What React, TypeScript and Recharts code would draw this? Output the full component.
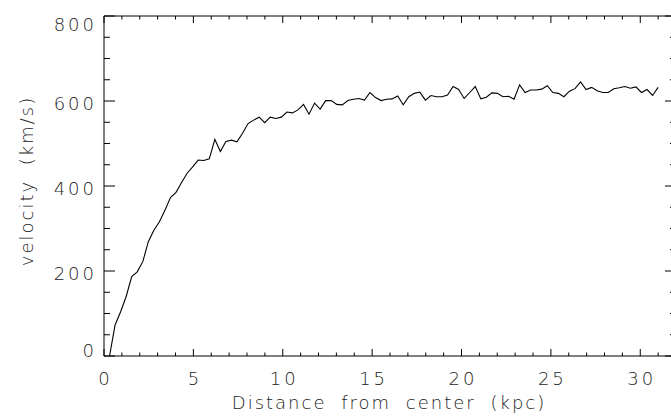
import React from 'react';
import { LineChart, Line, XAxis, YAxis } from 'recharts';

const distanceKpc = [
  0.31, 0.62, 0.93, 1.24, 1.55, 1.86, 2.17, 2.48, 2.79, 3.10,
  3.41, 3.72, 4.03, 4.34, 4.65, 4.96, 5.27, 5.58, 5.89, 6.20,
  6.51, 6.82, 7.13, 7.44, 7.75, 8.06, 8.37, 8.68, 8.99, 9.30,
  9.61, 9.92, 10.23, 10.54, 10.85, 11.16, 11.47, 11.78, 12.09, 12.40,
  12.71, 13.02, 13.33, 13.64, 13.95, 14.26, 14.57, 14.88, 15.19, 15.50,
  15.81, 16.12, 16.43, 16.74, 17.05, 17.36, 17.67, 17.98, 18.29, 18.60,
  18.91, 19.22, 19.53, 19.84, 20.15, 20.46, 20.77, 21.08, 21.39, 21.70,
  22.01, 22.32, 22.63, 22.94, 23.25, 23.56, 23.87, 24.18, 24.49, 24.80,
  25.11, 25.42, 25.73, 26.04, 26.35, 26.66, 26.97, 27.28, 27.59, 27.90,
  28.21, 28.52, 28.83, 29.14, 29.45, 29.76, 30.07, 30.38, 30.69, 31.00,
];

const velocityKms = [
  0, 73, 104, 140, 187, 198, 222, 269, 296, 316,
  343, 373, 385, 408, 430, 445, 461, 460, 464, 510,
  481, 505, 508, 504, 524, 547, 555, 562, 549, 562,
  559, 562, 574, 572, 579, 592, 569, 595, 581, 601,
  601, 592, 591, 601, 604, 606, 602, 620, 608, 601,
  604, 605, 612, 591, 610, 618, 621, 602, 613, 610,
  610, 614, 634, 627, 606, 620, 634, 605, 609, 619,
  618, 610, 611, 604, 638, 620, 626, 626, 628, 636,
  620, 618, 610, 623, 629, 645, 627, 632, 624, 620,
  620, 629, 631, 634, 630, 633, 620, 627, 613, 632,
];

const xTicks = [
  0, 1, 2, 3, 4, 5, 6, 7, 8, 9, 10, 11, 12, 13, 14, 15,
  16, 17, 18, 19, 20, 21, 22, 23, 24, 25, 26, 27, 28, 29, 30, 31,
];
const xTickLabels = [0, 5, 10, 15, 20, 25, 30];
const yTicks = [0, 50, 100, 150, 200, 250, 300, 350, 400, 450, 500, 550, 600, 650, 700, 750, 800];
const yTickLabels = [0, 200, 400, 600, 800];
const xDomain = [0, 32];
const yDomain = [0, 800];
const xTitle = 'Distance from center (kpc)';
const yTitle = 'velocity (km/s)';

const data = distanceKpc.map((d, i) => ({ d, v: velocityKms[i] }));

const FONT = "'DejaVu Sans', sans-serif";
const TEXT_COLOR = '#222';
const FONT_SIZE = 18;
const X_MAJOR = 7;
const X_MINOR = 3.5;
const Y_MAJOR = 11;
const Y_MINOR = 6;

const numStyle = {
  fontFamily: FONT,
  fontSize: FONT_SIZE,
  fontWeight: 200,
  letterSpacing: 3,
  fill: TEXT_COLOR,
};

const titleStyle = {
  fontFamily: FONT,
  fontSize: FONT_SIZE,
  fontWeight: 200,
  letterSpacing: 2,
  wordSpacing: 7,
  fill: TEXT_COLOR,
};

function BottomTick(props: any) {
  const { x, y, payload } = props;
  const major = xTickLabels.includes(payload.value);
  return (
    <g>
      <line x1={x} x2={x} y1={y} y2={y - (major ? X_MAJOR : X_MINOR)} stroke="#000" strokeWidth={1} />
      {major && (
        <text x={x + 1.5} y={y + 29} textAnchor="middle" style={numStyle}>
          {payload.value}
        </text>
      )}
    </g>
  );
}

function TopTick(props: any) {
  const { x, y, payload } = props;
  const major = xTickLabels.includes(payload.value);
  return (
    <line x1={x} x2={x} y1={y} y2={y + (major ? X_MAJOR : X_MINOR)} stroke="#000" strokeWidth={1} />
  );
}

function LeftTick(props: any) {
  const { x, y, payload } = props;
  const major = yTickLabels.includes(payload.value);
  const v = payload.value;
  const dy = v === yDomain[1] ? 15 : v === yDomain[0] ? 1 : 9;
  return (
    <g>
      <line x1={x} x2={x + (major ? Y_MAJOR : Y_MINOR)} y1={y} y2={y} stroke="#000" strokeWidth={1} />
      {major && (
        <text x={x - 7} y={y + dy} textAnchor="end" style={numStyle}>
          {v}
        </text>
      )}
    </g>
  );
}

function RightTick(props: any) {
  const { x, y, payload } = props;
  const major = yTickLabels.includes(payload.value);
  return (
    <line x1={x} x2={x - (major ? Y_MAJOR : Y_MINOR)} y1={y} y2={y} stroke="#000" strokeWidth={1} />
  );
}

function XTitle(props: any) {
  const vb = props.viewBox;
  return (
    <text x={vb.x + vb.width / 2 - 1} y={vb.y + 53} textAnchor="middle" style={titleStyle}>
      {xTitle}
    </text>
  );
}

function YTitle(props: any) {
  const vb = props.viewBox;
  const cx = vb.x + 33;
  const cy = vb.y + vb.height / 2 - 5;
  return (
    <text
      x={cx}
      y={cy}
      textAnchor="middle"
      transform={`rotate(-90 ${cx} ${cy})`}
      style={titleStyle}
    >
      {yTitle}
    </text>
  );
}

export default function App() {
  return (
    <div
      style={{
        position: 'fixed',
        left: 0,
        top: 0,
        width: 671,
        height: 416,
        overflow: 'hidden',
        background: '#fff',
      }}
    >
      <LineChart
        width={690}
        height={416}
        data={data}
        margin={{ top: 0, right: 0, bottom: 0, left: 0 }}
      >
        <XAxis
          dataKey="d"
          type="number"
          domain={xDomain}
          ticks={xTicks}
          interval={0}
          allowDataOverflow
          height={60}
          tickSize={0}
          tickMargin={0}
          tickLine={false}
          axisLine={{ stroke: '#000', strokeWidth: 1 }}
          tick={BottomTick}
          label={<XTitle />}
        />
        <XAxis
          xAxisId="top"
          orientation="top"
          dataKey="d"
          type="number"
          domain={xDomain}
          ticks={xTicks}
          interval={0}
          allowDataOverflow
          height={16}
          tickSize={0}
          tickMargin={0}
          tickLine={false}
          axisLine={{ stroke: '#000', strokeWidth: 1 }}
          tick={TopTick}
        />
        <YAxis
          type="number"
          domain={yDomain}
          ticks={yTicks}
          interval={0}
          allowDataOverflow
          width={104}
          tickSize={0}
          tickMargin={0}
          tickLine={false}
          axisLine={{ stroke: '#000', strokeWidth: 1 }}
          tick={LeftTick}
          label={<YTitle />}
        />
        <YAxis
          yAxisId="right"
          orientation="right"
          type="number"
          domain={yDomain}
          ticks={yTicks}
          interval={0}
          allowDataOverflow
          width={14}
          tickSize={0}
          tickMargin={0}
          tickLine={false}
          axisLine={{ stroke: '#000', strokeWidth: 1 }}
          tick={RightTick}
        />
        <Line
          dataKey="v"
          type="linear"
          stroke="#000"
          strokeWidth={1.1}
          dot={false}
          isAnimationActive={false}
        />
      </LineChart>
    </div>
  );
}
